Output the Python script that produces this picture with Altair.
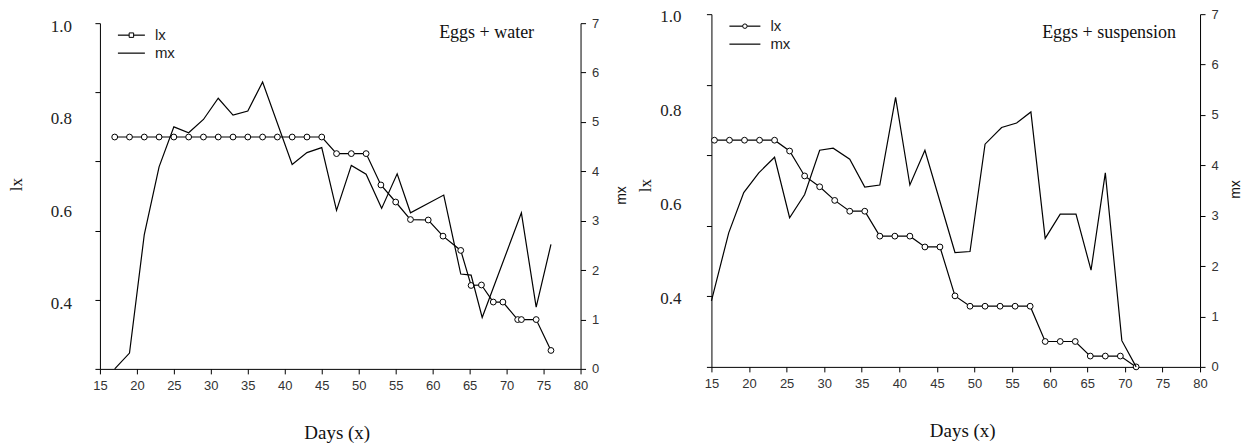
import altair as alt
import pandas as pd

SANS = "Liberation Sans"
SERIF = "Liberation Serif"

# ---------------- data: Eggs + water ----------------
water_lx_days = [17, 19, 21, 23, 25, 27, 29, 31, 33, 35, 37, 39, 41, 43, 45,
                 47, 49, 51, 53, 55, 57, 59.4, 61.4, 63.8, 65.2, 66.6, 68.2, 69.5, 71.5, 72, 74, 76]
water_lx = [0.753, 0.753, 0.753, 0.753, 0.753, 0.753, 0.753, 0.753, 0.753, 0.753, 0.753, 0.753, 0.753, 0.753, 0.753,
            0.717, 0.717, 0.717, 0.649, 0.612, 0.574, 0.573, 0.538, 0.507, 0.431, 0.432, 0.395, 0.395, 0.357, 0.357, 0.357, 0.290]
water_mx_days = [17, 19, 21, 23, 25, 27, 29, 31, 33, 35, 37, 41, 43, 45, 47, 49, 51, 53.1, 55.2, 57,
                 61.5, 63.8, 65.2, 66.7, 72, 74, 76]
water_mx = [0.0, 0.32, 2.72, 4.09, 4.90, 4.78, 5.05, 5.48, 5.14, 5.22, 5.81, 4.14, 4.38, 4.48, 3.21, 4.12, 3.94, 3.25, 3.95, 3.16,
            3.52, 1.92, 1.90, 1.04, 3.16, 1.25, 2.52]

# ---------------- data: Eggs + suspension ----------------
susp_lx_days = [15.4, 17.4, 19.4, 21.4, 23.4, 25.4, 27.4, 29.4, 31.4, 33.4, 35.4, 37.4, 39.4, 41.4, 43.4, 45.4,
                47.4, 49.4, 51.4, 53.4, 55.4, 57.4, 59.4, 61.4, 63.4, 65.4, 67.4, 69.4, 71.5]
susp_lx = [0.732, 0.732, 0.732, 0.732, 0.732, 0.709, 0.656, 0.633, 0.604, 0.581, 0.581, 0.528, 0.528, 0.528, 0.505, 0.505,
           0.401, 0.379, 0.379, 0.379, 0.379, 0.379, 0.304, 0.304, 0.304, 0.273, 0.273, 0.273, 0.25]
susp_mx_days = [15, 17.3, 19.3, 21.3, 23.4, 25.4, 27.4, 29.4, 31.2, 33.4, 35.4, 37.4, 39.5, 41.4, 43.4,
                47.4, 49.4, 51.4, 53.6, 55.6, 57.5, 59.4, 61.4, 63.5, 65.5, 67.4, 69.6, 71.5]
susp_mx = [1.31, 2.66, 3.46, 3.85, 4.16, 2.96, 3.42, 4.30, 4.34, 4.12, 3.57, 3.61, 5.35, 3.61, 4.30,
           2.27, 2.29, 4.42, 4.75, 4.84, 5.06, 2.55, 3.03, 3.03, 1.92, 3.85, 0.52, 0.0]

# ---------------- axis values / labels ----------------
x_ticks = [15, 20, 25, 30, 35, 40, 45, 50, 55, 60, 65, 70, 75, 80]
lx_ticks = [0.25, 0.40, 0.55, 0.70, 0.85, 1.0]
lx_label_vals = [0.4, 0.6, 0.8, 1.0]
lx_label_text = ["0.4", "0.6", "0.8", "1.0"]
mx_ticks = [0, 1, 2, 3, 4, 5, 6, 7]
legend_labels = ["lx", "mx"]
panel_titles = ["Eggs + water", "Eggs + suspension"]


def panel(lx_days, lx_vals, mx_days, mx_vals, title, w, h, top, opts):
    one = pd.DataFrame({"k": [0]})
    lx_df = pd.DataFrame({"day": lx_days, "lx": lx_vals})
    mx_df = pd.DataFrame({"day": mx_days, "mx": mx_vals})
    lab_df = pd.DataFrame({"lx": lx_label_vals, "t": lx_label_text})

    x_axis = alt.Axis(values=x_ticks, title="Days (x)", titleFont=SERIF, titleFontSize=19,
                      titleFontWeight="normal", titleColor="#111",
                      titleX=opts["days_x"], titleY=64, titleBaseline="middle",
                      labelFont=SANS, labelFontSize=13, labelColor="#333", labelPadding=6,
                      labelOverlap=False, labelFlush=False, tickSize=5, format="d")
    x_scale = alt.Scale(domain=[15, 80], nice=False, zero=False)
    yl_scale = alt.Scale(domain=[0.25, 1.0], nice=False, zero=False, range=[h, top])
    yl_axis = alt.Axis(orient="left", values=lx_ticks, labels=False, tickSize=5,
                       title="lx", titleFont=SERIF, titleFontSize=17, titleFontWeight="normal",
                       titleColor="#111", titleAngle=-90, titleX=opts["lx_title_x"],
                       titleY=top + opts["lx_title_y"], titleBaseline="middle", titleAlign="center")

    lx_line = alt.Chart(lx_df).mark_line(color="black", strokeWidth=1.2).encode(
        x=alt.X("day:Q", scale=x_scale, axis=x_axis), y=alt.Y("lx:Q", scale=yl_scale, axis=yl_axis))
    lx_pts = alt.Chart(lx_df).mark_point(shape="circle", filled=True, fill="white", stroke="black",
                                         strokeWidth=1, size=34, opacity=1).encode(
        x=alt.X("day:Q", axis=x_axis), y="lx:Q")
    lx_labels = alt.Chart(lab_df).mark_text(font=SERIF, fontSize=17, align="right", baseline="middle",
                                            dy=opts["lab_dy"], color="#222").encode(
        x=alt.value(opts["lab_x"]), y="lx:Q", text="t:N")
    lx_layer = alt.layer(lx_line, lx_pts, lx_labels)

    mx_line = alt.Chart(mx_df).mark_line(color="black", strokeWidth=1.2).encode(
        x=alt.X("day:Q", axis=x_axis),
        y=alt.Y("mx:Q", scale=alt.Scale(domain=[0, 7], nice=False, range=[h, top]),
                axis=alt.Axis(orient="right", values=mx_ticks, tickSize=5, labelFont=SANS,
                              labelFontSize=13, labelColor="#333", labelPadding=6,
                              labelOverlap=False, labelFlush=False,
                              title="mx", titleFont=SANS, titleFontSize=14, titleFontWeight="normal",
                              titleColor="#111", titleAngle=-90, titleX=opts["mx_title_x"],
                              titleY=top + opts["mx_title_y"],
                              titleBaseline="middle", titleAlign="center")))

    title_txt = alt.Chart(one).mark_text(font=SERIF, fontSize=18, color="#111", align="center",
                                         baseline="middle").encode(
        x=alt.value(opts["title_x"]), y=alt.value(top + opts["title_y"]), text=alt.value(title))

    # legend
    lg = []
    y1, y2 = top + 12, top + 30
    lg.append(alt.Chart(one).mark_rule(color="black", strokeWidth=1.2).encode(
        x=alt.value(18), x2=alt.value(opts["leg_x2"]), y=alt.value(y1)))
    lg.append(alt.Chart(one).mark_point(shape=opts["leg_shape"], filled=True, fill="white", stroke="black",
                                        strokeWidth=1, size=20, opacity=1).encode(
        x=alt.value((18 + opts["leg_x2"]) / 2), y=alt.value(y1)))
    lg.append(alt.Chart(one).mark_rule(color="black", strokeWidth=1.2).encode(
        x=alt.value(18), x2=alt.value(opts["leg_x2"]), y=alt.value(y2)))
    for i, yy in enumerate([y1, y2]):
        lg.append(alt.Chart(one).mark_text(font=SANS, fontSize=15, align="left", baseline="middle",
                                           color="#222").encode(
            x=alt.value(opts["leg_x2"] + 10), y=alt.value(yy), text=alt.value(legend_labels[i])))

    layers = [lx_layer, mx_line, title_txt] + lg
    return alt.layer(*layers).resolve_scale(y="independent").properties(width=w, height=h)


left = panel(water_lx_days, water_lx, water_mx_days, water_mx, panel_titles[0], 481, 355, 9,
             {"days_x": 237, "lx_title_x": -83, "lx_title_y": 161, "lab_dy": 4, "lab_x": -28,
              "mx_title_x": 41, "mx_title_y": 172, "title_x": 387, "title_y": 10, "leg_x2": 45,
              "leg_shape": "square"})
right = panel(susp_lx_days, susp_lx, susp_mx_days, susp_mx, panel_titles[1], 489, 353, 0,
              {"days_x": 251, "lx_title_x": -66, "lx_title_y": 171, "lab_dy": 3, "lab_x": -30,
               "mx_title_x": 35, "mx_title_y": 175, "title_x": 398, "title_y": 19, "leg_x2": 49,
               "leg_shape": "circle"})

chart = alt.hconcat(left, right, spacing=8).properties(
    padding={"left": 0, "top": 0, "right": 0, "bottom": 0}
).configure_view(stroke=None).configure_axis(
    grid=False, domainColor="black", tickColor="black", domainWidth=1, tickWidth=1
).configure_axisX(labelOverlap=False, labelFlush=False)

chart.save("out.html", embed_options={"renderer": "svg", "actions": False})
